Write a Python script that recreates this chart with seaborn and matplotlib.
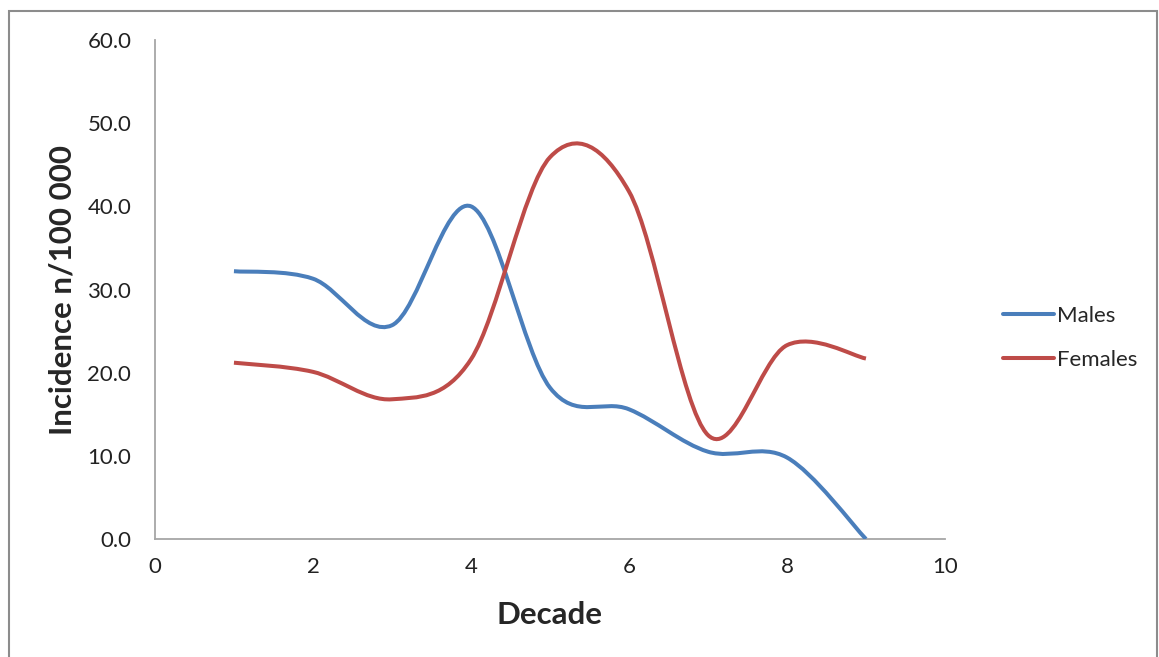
import numpy as np
import pandas as pd
import seaborn as sns
import matplotlib.pyplot as plt
from matplotlib.path import Path
from matplotlib.patches import PathPatch, Rectangle
from matplotlib.lines import Line2D

# values
decade = [1, 2, 3, 4, 5, 6, 7, 8, 9]
males = [32.2, 31.3, 25.7, 40.0, 18.2, 15.6, 10.5, 9.8, 0.0]
females = [21.2, 20.1, 16.8, 21.6, 45.9, 41.8, 12.5, 23.3, 21.7]
series_names = ['Males', 'Females']
series_colors = ['#4A7EBB', '#BE4B48']

df = pd.DataFrame({'decade': decade, 'Males': males, 'Females': females})

sns.set_style("white")
plt.rcParams['font.family'] = ['Lato', 'DejaVu Sans']


def smooth_path(x, y):
    # Excel-style smoothed line: cubic bezier through every point
    pts = np.column_stack([x, y]).astype(float)
    ext = np.vstack([pts[0], pts, pts[-1]])
    verts = [pts[0]]
    codes = [Path.MOVETO]
    for i in range(len(pts) - 1):
        p0, p1, p2, p3 = ext[i], ext[i + 1], ext[i + 2], ext[i + 3]
        verts += [p1 + (p2 - p0) / 6, p2 - (p3 - p1) / 6, p2]
        codes += [Path.CURVE4] * 3
    return Path(verts, codes)


fig = plt.figure(figsize=(11.59, 6.57), dpi=100)
ax = fig.add_axes([0.1337, 0.1796, 0.6816, 0.7595])

for name, color in zip(series_names, series_colors):
    patch = PathPatch(smooth_path(df['decade'], df[name]), facecolor='none',
                      edgecolor=color, lw=2.9, capstyle='butt', zorder=3)
    ax.add_patch(patch)

ax.set_xlim(0, 10)
ax.set_ylim(0, 60)
ax.set_xticks(range(0, 11, 2))
ax.set_yticks(np.arange(0, 61, 10))
ax.set_yticklabels([f'{v:.1f}' for v in np.arange(0, 61, 10)])
ax.tick_params(axis='both', length=0, labelsize=16, colors='#222222')
ax.tick_params(axis='y', pad=17)
ax.tick_params(axis='x', pad=13)
sns.despine(ax=ax)
for s in ['left', 'bottom']:
    ax.spines[s].set_color('#A6A6A6')
    ax.spines[s].set_linewidth(1.3)

ax.set_xlabel('Decade', fontsize=22.5, fontweight='bold', labelpad=17)
ax.set_ylabel('Incidence n/100 000', fontsize=22.5, fontweight='bold', labelpad=8)

handles = [Line2D([], [], color=c, lw=2.9) for c in series_colors]
fig.legend(handles, series_names, loc='upper left', bbox_to_anchor=(0.848, 0.565),
           frameon=False, fontsize=16, handlelength=2.3, handletextpad=0.15,
           labelspacing=1.1)

# chart area border
fig.patches.append(Rectangle((9 / 1159, -0.05), 1148 / 1159, 1 - 11 / 657 + 0.05,
                             transform=fig.transFigure, fill=False,
                             edgecolor='#8C8C8C', lw=1.5))

fig.savefig('out.png', dpi=100)
